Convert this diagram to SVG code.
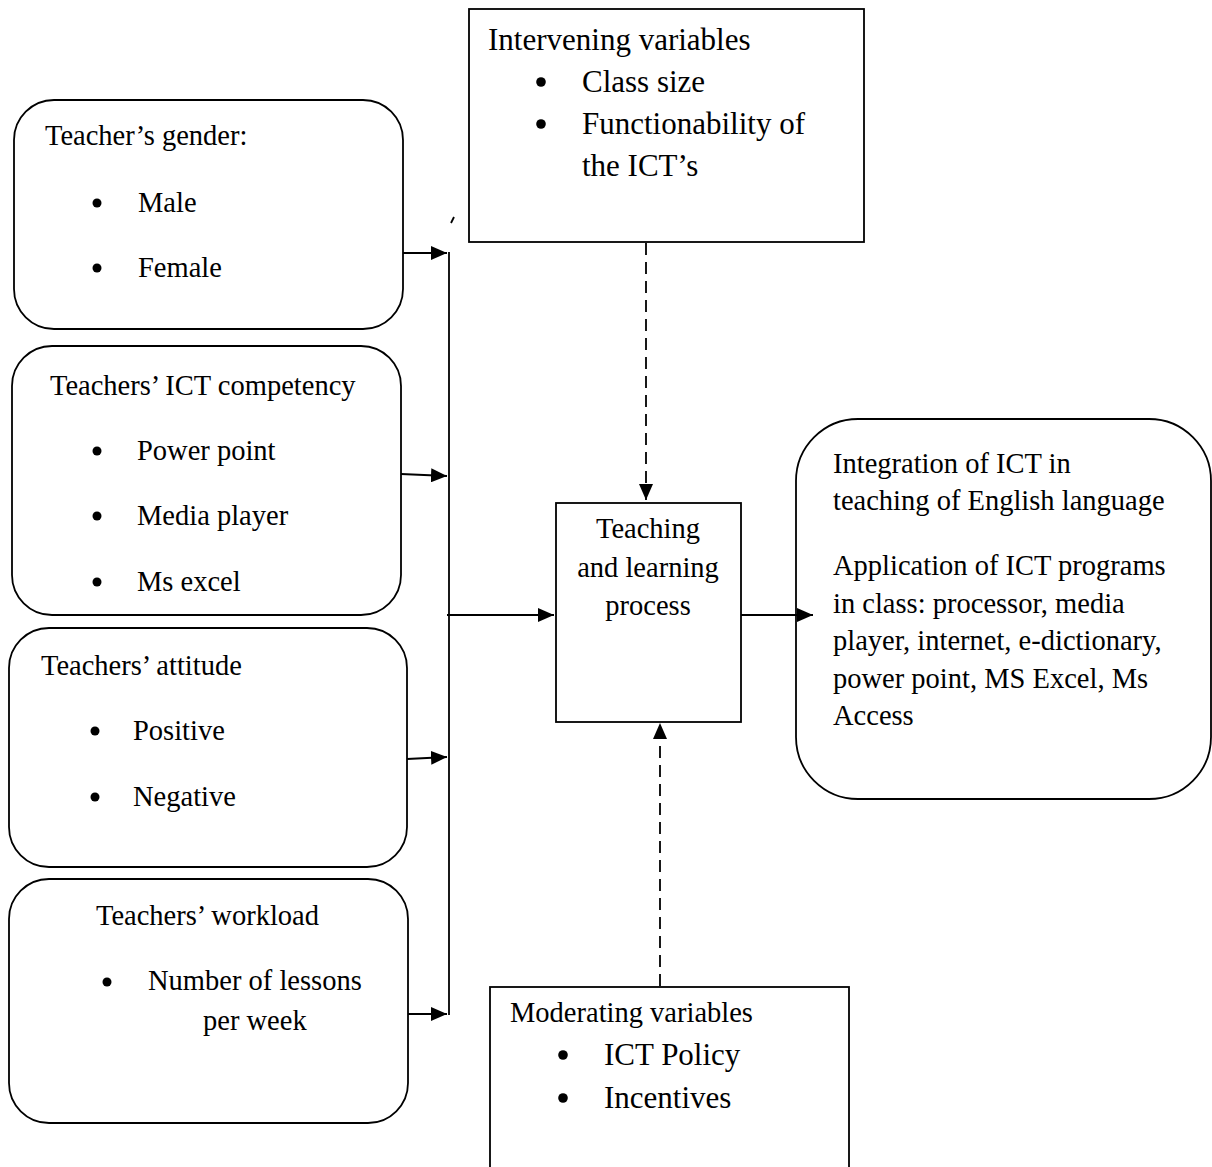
<svg xmlns="http://www.w3.org/2000/svg" width="1212" height="1167" viewBox="0 0 1212 1167">
<style>
text{font-family:"Liberation Serif","Times New Roman",serif;font-size:28.5px;fill:#000}
.big{font-size:31px}
.box{fill:#fff;stroke:#000;stroke-width:1.8}
.ln{fill:none;stroke:#000;stroke-width:1.8}
.dash{fill:none;stroke:#000;stroke-width:1.8;stroke-dasharray:12 7}
.dot{fill:#000}
</style>
<defs>
<marker id="ah" viewBox="0 0 16 14" refX="16" refY="7" markerWidth="16" markerHeight="14" markerUnits="userSpaceOnUse" orient="auto">
<path d="M0,0 L16,7 L0,14 Z" fill="#000"/>
</marker>
</defs>
<rect width="1212" height="1167" fill="#fff"/>

<g id="gender">
<rect class="box" x="14" y="100" width="389" height="229" rx="40"/>
<text x="45" y="145">Teacher’s gender:</text>
<circle class="dot" cx="97" cy="203" r="4.5"/>
<text x="138" y="212">Male</text>
<circle class="dot" cx="97" cy="268" r="4.5"/>
<text x="138" y="277">Female</text>
</g>

<g id="competency">
<rect class="box" x="12" y="346" width="389" height="269" rx="40"/>
<text x="50" y="395">Teachers’ ICT competency</text>
<circle class="dot" cx="97" cy="451" r="4.5"/>
<text x="137" y="460">Power point</text>
<circle class="dot" cx="97" cy="516" r="4.5"/>
<text x="137" y="525">Media player</text>
<circle class="dot" cx="97" cy="582" r="4.5"/>
<text x="137" y="591">Ms excel</text>
</g>

<g id="attitude">
<rect class="box" x="9" y="628" width="398" height="239" rx="40"/>
<text x="41" y="675">Teachers’ attitude</text>
<circle class="dot" cx="95" cy="731" r="4.5"/>
<text x="133" y="740">Positive</text>
<circle class="dot" cx="95" cy="797" r="4.5"/>
<text x="133" y="806">Negative</text>
</g>

<g id="workload">
<rect class="box" x="9" y="879" width="399" height="244" rx="40"/>
<text x="96" y="925">Teachers’ workload</text>
<circle class="dot" cx="107" cy="982" r="4.5"/>
<text x="148" y="990">Number of lessons</text>
<text x="203" y="1030">per week</text>
</g>

<g id="intervening">
<rect class="box" x="469" y="9" width="395" height="233"/>
<text x="488" y="50" class="big">Intervening variables</text>
<circle class="dot" cx="541" cy="82" r="4.8"/>
<text x="582" y="92" class="big">Class size</text>
<circle class="dot" cx="541" cy="124" r="4.8"/>
<text x="582" y="134" class="big">Functionability of</text>
<text x="582" y="176" class="big">the ICT’s</text>
</g>

<g id="process">
<rect class="box" x="556" y="503" width="185" height="219"/>
<text x="648" y="538" text-anchor="middle">Teaching</text>
<text x="648" y="577" text-anchor="middle">and learning</text>
<text x="648" y="615" text-anchor="middle">process</text>
</g>

<g id="outcome">
<rect class="box" x="796" y="419" width="415" height="380" rx="62"/>
<text x="833" y="473">Integration of ICT in</text>
<text x="833" y="510">teaching of English language</text>
<text x="833" y="575">Application of ICT programs</text>
<text x="833" y="612.5">in class: processor, media</text>
<text x="833" y="650">player, internet, e-dictionary,</text>
<text x="833" y="687.5">power point, MS Excel, Ms</text>
<text x="833" y="725">Access</text>
</g>

<g id="moderating">
<rect class="box" x="490" y="987" width="359" height="200"/>
<text x="510" y="1022">Moderating variables</text>
<circle class="dot" cx="563" cy="1055" r="4.8"/>
<text x="604" y="1065" class="big">ICT Policy</text>
<circle class="dot" cx="563" cy="1098" r="4.8"/>
<text x="604" y="1108" class="big">Incentives</text>
</g>

<g id="connectors">
<line class="ln" x1="449" y1="252" x2="449" y2="1015"/>
<line class="ln" x1="451" y1="223" x2="454" y2="217"/>
<line class="ln" x1="403" y1="253" x2="447" y2="253" marker-end="url(#ah)"/>
<line class="ln" x1="401" y1="474" x2="447" y2="476" marker-end="url(#ah)"/>
<line class="ln" x1="407" y1="759" x2="447" y2="757" marker-end="url(#ah)"/>
<line class="ln" x1="408" y1="1014" x2="447" y2="1014" marker-end="url(#ah)"/>
<line class="ln" x1="447" y1="615" x2="554" y2="615" marker-end="url(#ah)"/>
<line class="ln" x1="741" y1="615" x2="813" y2="615" marker-end="url(#ah)"/>
<line class="dash" x1="646" y1="243" x2="646" y2="500" marker-end="url(#ah)"/>
<line class="dash" x1="660" y1="986" x2="660" y2="723" marker-end="url(#ah)"/>
</g>
</svg>
